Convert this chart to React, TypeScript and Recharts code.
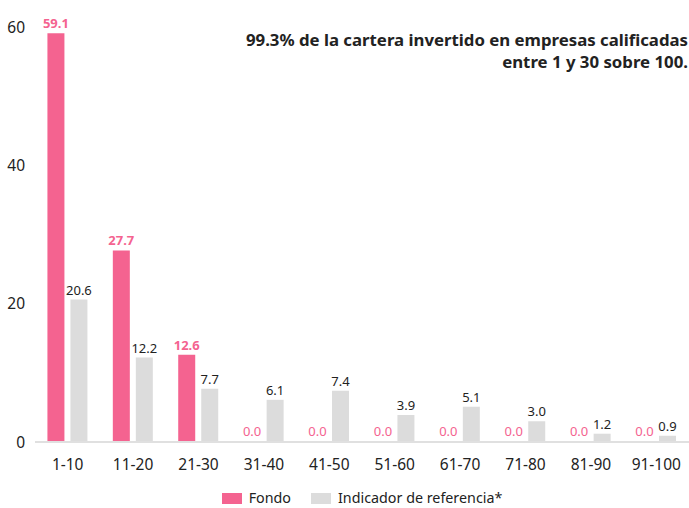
import { BarChart, Bar, XAxis, YAxis, LabelList, Legend } from 'recharts';

const categories = ['1-10', '11-20', '21-30', '31-40', '41-50', '51-60', '61-70', '71-80', '81-90', '91-100'];
const fondo = [59.1, 27.7, 12.6, 0.0, 0.0, 0.0, 0.0, 0.0, 0.0, 0.0];
const indicador = [20.6, 12.2, 7.7, 6.1, 7.4, 3.9, 5.1, 3.0, 1.2, 0.9];
const yTicks = [0, 20, 40, 60];

const PINK = '#f46390';
const GRAY = '#dcdcdc';
const FONT = '"Noto Sans", "Open Sans", sans-serif';

const data = categories.map((c, i) => ({ cat: c, fondo: fondo[i], indicador: indicador[i] }));

function LegendContent() {
  const items = [
    { label: 'Fondo', color: PINK },
    { label: 'Indicador de referencia*', color: GRAY },
  ];
  return (
    <div style={{ display: 'flex', justifyContent: 'center', alignItems: 'center', height: 20, paddingLeft: 35, boxSizing: 'border-box', fontFamily: FONT, fontSize: 14.3, lineHeight: '18px', color: '#222' }}>
      {items.map((it, i) => (
        <div key={it.label} style={{ display: 'flex', alignItems: 'center', marginLeft: i ? 20 : 0 }}>
          <span style={{ display: 'inline-block', width: 20, height: 11, background: it.color, marginRight: 7 }} />
          <span>{it.label}</span>
        </div>
      ))}
    </div>
  );
}

// pink labels: bold for non-zero values
function FondoLabel(props: any) {
  const { x, y, width, value } = props;
  return (
    <text x={x + width / 2} y={y - 5} textAnchor="middle" fill={PINK} fontSize={13} fontFamily={FONT} fontWeight={value > 0 ? 'bold' : 'normal'}>
      {Number(value).toFixed(1)}
    </text>
  );
}

export default function App() {
  return (
    <div style={{ position: 'absolute', left: 0, top: 0, width: 689, height: 508, fontFamily: FONT }}>
      <BarChart width={689} height={508} data={data} margin={{ top: 27, right: 0, left: 0, bottom: 0 }} barGap={6} barCategoryGap="19%">
        <YAxis
          domain={[0, 60]}
          ticks={yTicks}
          width={35}
          axisLine={false}
          tickLine={false}
          tickMargin={4}
          tick={{ fill: '#222', fontSize: 15.5, fontFamily: FONT }}
        />
        <XAxis
          dataKey="cat"
          height={46}
          axisLine={{ stroke: '#e0e0e0', strokeWidth: 2 }}
          tickLine={false}
          tickMargin={11}
          tick={{ fill: '#222', fontSize: 15.5, fontFamily: FONT }}
        />
        <Legend verticalAlign="bottom" height={20} content={<LegendContent />} />
        <Bar dataKey="fondo" name="Fondo" fill={PINK} minPointSize={1} isAnimationActive={false}>
          <LabelList dataKey="fondo" content={<FondoLabel />} />
        </Bar>
        <Bar dataKey="indicador" name="Indicador de referencia*" fill={GRAY} isAnimationActive={false}>
          <LabelList dataKey="indicador" position="top" formatter={(v: number) => v.toFixed(1)} fill="#222" fontSize={13} fontFamily={FONT} />
        </Bar>
      </BarChart>
      <div style={{ position: 'absolute', right: 1, top: 29, textAlign: 'right', fontSize: 16.8, fontWeight: 'bold', lineHeight: '22px', color: '#222' }}>
        99.3% de la cartera invertido en empresas calificadas
        <br />
        entre 1 y 30 sobre 100.
      </div>
    </div>
  );
}
